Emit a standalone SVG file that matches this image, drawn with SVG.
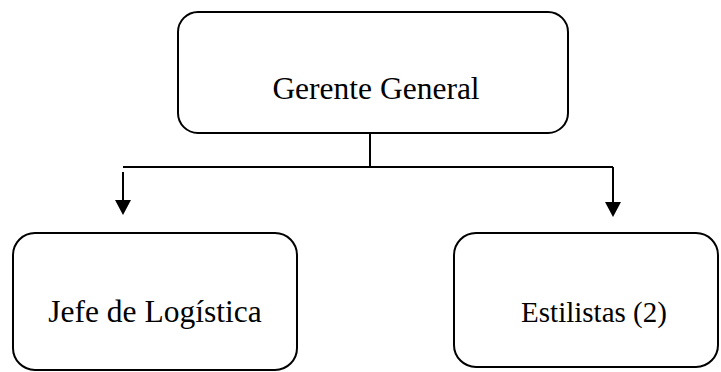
<svg xmlns="http://www.w3.org/2000/svg" width="721" height="372" viewBox="0 0 721 372">
<style>
.box{fill:#fff;stroke:#000;stroke-width:2}
.lbl{font-family:'Liberation Serif','Times New Roman',Tinos,'DejaVu Serif',serif;fill:#000;text-anchor:middle}
.ln{fill:none;stroke:#000;stroke-width:2}
.ah{fill:#000}
</style>
<rect width="721" height="372" fill="#fff"/>
<g id="connectors">
<line class="ln" x1="370" y1="133" x2="370" y2="167"/>
<line class="ln" x1="123" y1="167" x2="613" y2="167"/>
<path class="ln" d="M123,172 L123,201"/>
<path class="ah" d="M115,200 L131,200 L123,215 Z"/>
<path class="ln" d="M613,167 L613,203"/>
<path class="ah" d="M605,202 L621,202 L613,217 Z"/>
</g>
<g id="gerente">
<rect class="box" x="178" y="12" width="390" height="121" rx="20"/>
<text class="lbl" x="376" y="99" font-size="31.5" font-family="Liberation Serif, serif">Gerente General</text>
</g>
<g id="jefe">
<rect class="box" x="13" y="233" width="284" height="137" rx="22"/>
<text class="lbl" x="155" y="322" font-size="31.5" font-family="Liberation Serif, serif">Jefe de Logística</text>
</g>
<g id="estilistas">
<rect class="box" x="454" y="233" width="264" height="134" rx="22"/>
<text class="lbl" x="594" y="322" font-size="29" font-family="Liberation Serif, serif">Estilistas (2)</text>
</g>
</svg>
